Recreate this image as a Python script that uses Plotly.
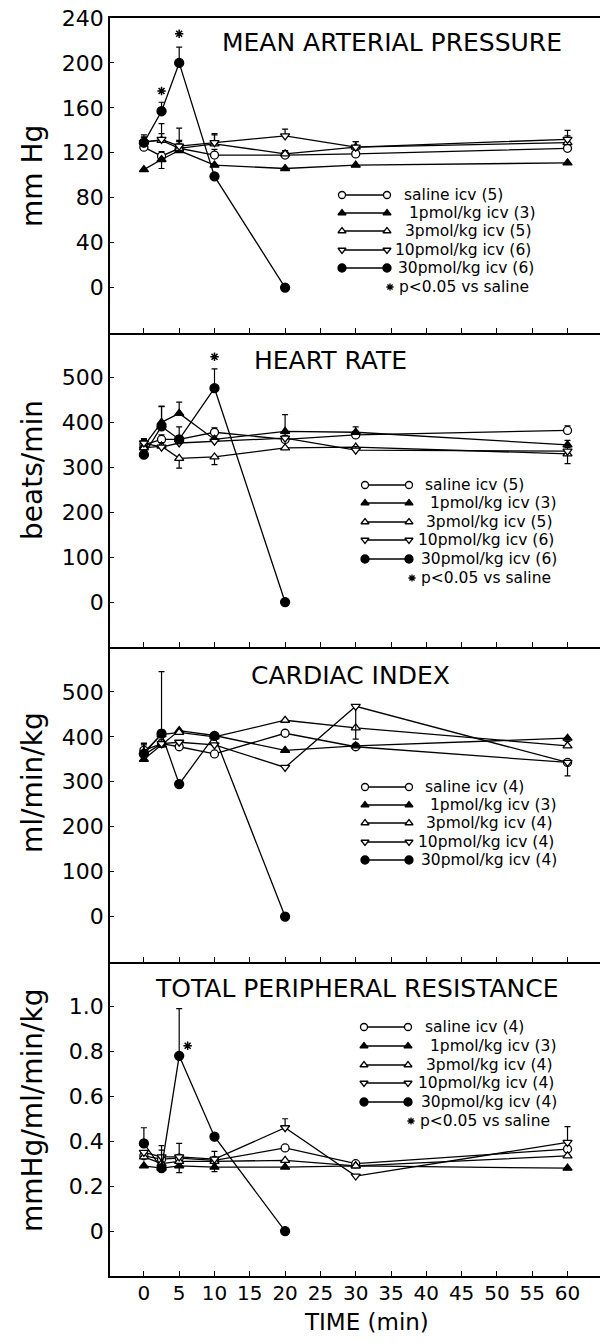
import plotly.graph_objects as go
from plotly.subplots import make_subplots

# ---------------- data ----------------
TIMES = [0, 2.5, 5, 10, 20, 30, 60]
SERIES = ["saline", "1pmol", "3pmol", "10pmol", "30pmol"]

# Mean arterial pressure (mm Hg)
MAP_MEAN = {
    "saline": [125, 117, 124, 118, 118, 119, 124],
    "1pmol": [105, 114, 122, 109, 106, 109, 111],
    "3pmol": [130, 131, 124, 128, 119, 125, 129],
    "10pmol": [129, 132, 126, 129, 135, 125, 132],
    "30pmol": [129, 157, 200, 99, 0, None, None],
}
MAP_UP = {
    "saline": [4, 4, 4, 5, 4, 4, 4],
    "1pmol": [0, 0, 20, 0, 0, 0, 0],
    "3pmol": [4, 15, 6, 8, 3, 5, 6],
    "10pmol": [5, 5, 5, 8, 6, 5, 8],
    "30pmol": [7, 8, 14, 0, 0, 0, 0],
}
MAP_DOWN = {"1pmol": [0, 8, 0, 0, 0, 0, 0]}
MAP_STARS_X = [2.5, 5]
MAP_STARS_Y = [175, 226]

# Heart rate (beats/min)
HR_MEAN = {
    "saline": [350, 362, 362, 378, 362, 372, 382],
    "1pmol": [347, 400, 420, 362, 380, 378, 350],
    "3pmol": [343, 347, 320, 323, 343, 345, 330],
    "10pmol": [354, 345, 354, 358, 365, 338, 336],
    "30pmol": [328, 391, 362, 476, 0, None, None],
}
HR_UP = {
    "saline": [10, 10, 8, 10, 8, 8, 10],
    "1pmol": [15, 35, 25, 0, 37, 12, 10],
    "3pmol": [0, 0, 0, 0, 0, 0, 0],
    "10pmol": [10, 10, 10, 10, 10, 8, 8],
    "30pmol": [10, 45, 28, 43, 0, 0, 0],
}
HR_DOWN = {"3pmol": [0, 0, 22, 17, 0, 0, 22]}
HR_STARS_X = [10]
HR_STARS_Y = [546]

# Cardiac index (ml/min/kg)
CI_MEAN = {
    "saline": [370, 385, 378, 362, 408, 378, 343],
    "1pmol": [350, 382, 414, 403, 370, 380, 397],
    "3pmol": [366, 405, 410, 400, 437, 420, 380],
    "10pmol": [360, 385, 388, 382, 332, 468, 343],
    "30pmol": [362, 407, 295, 402, 0, None, None],
}
CI_UP = {
    "saline": [15, 8, 8, 0, 0, 0, 0],
    "1pmol": [0, 0, 0, 0, 0, 0, 0],
    "3pmol": [20, 10, 0, 0, 0, 0, 10],
    "10pmol": [0, 0, 0, 0, 0, 0, 0],
    "30pmol": [20, 138, 0, 0, 0, 0, 0],
}
CI_DOWN = {"saline": [0, 0, 0, 0, 0, 0, 30], "10pmol": [0, 0, 0, 0, 0, 73, 0]}

# Total peripheral resistance (mmHg/ml/min/kg)
TPR_MEAN = {
    "saline": [0.335, 0.32, 0.325, 0.315, 0.37, 0.30, 0.365],
    "1pmol": [0.29, 0.28, 0.29, 0.285, 0.285, 0.29, 0.28],
    "3pmol": [0.33, 0.30, 0.31, 0.31, 0.315, 0.29, 0.335],
    "10pmol": [0.35, 0.33, 0.33, 0.32, 0.46, 0.245, 0.395],
    "30pmol": [0.39, 0.28, 0.78, 0.42, 0.0, None, None],
}
TPR_UP = {
    "saline": [0, 0, 0, 0.04, 0, 0, 0],
    "1pmol": [0, 0, 0, 0, 0, 0, 0],
    "3pmol": [0, 0.06, 0.08, 0, 0, 0, 0],
    "10pmol": [0, 0, 0, 0, 0.04, 0, 0.07],
    "30pmol": [0.07, 0.1, 0.21, 0, 0, 0, 0],
}
TPR_DOWN = {"3pmol": [0, 0, 0.05, 0, 0, 0, 0], "saline": [0, 0, 0, 0.05, 0, 0, 0]}
TPR_STARS_X = [6.2]
TPR_STARS_Y = [0.825]

PANEL_TITLES = ["MEAN ARTERIAL PRESSURE", "HEART RATE", "CARDIAC INDEX",
                "TOTAL PERIPHERAL RESISTANCE"]
Y_TITLES = ["mm Hg", "beats/min", "ml/min/kg", "mmHg/ml/min/kg"]
N_MAP = [5, 3, 5, 6, 6]
N_HR = [5, 3, 5, 6, 6]
N_CI = [4, 3, 4, 4, 4]
N_TPR = [4, 3, 4, 4, 4]
DOSE_LABELS = ["saline icv", "1pmol/kg icv", "3pmol/kg icv", "10pmol/kg icv", "30pmol/kg icv"]
X_TICKS = list(range(0, 61, 5))

# ---------------- layout constants ----------------
W_FIG, H_FIG = 600, 1343
L, R, T, B = 110, 0, 18, 67
PW = W_FIG - L - R
PH = H_FIG - T - B
BOTTOM = H_FIG - B
XR = [-4.8, 64.6]
DOMAINS = [[0.75, 1.0], [0.5, 0.75], [0.25, 0.5], [0.0, 0.25]]
YRANGES = [[-40, 240], [-100, 600], [-100, 600], [-0.2, 1.2]]
YTICKS = [list(range(0, 241, 40)), list(range(0, 501, 100)), list(range(0, 501, 100)),
          [0, 0.2, 0.4, 0.6, 0.8, 1.0]]
YTICKTEXT = [None, None, None, ["0", "0.2", "0.4", "0.6", "0.8", "1.0"]]

FONT = "DejaVu Sans"
LEG_FONT = 15.5
STYLE = {
    "saline": ("circle", "white", 8),
    "1pmol": ("triangle-up", "black", 8),
    "3pmol": ("triangle-up", "white", 8),
    "10pmol": ("triangle-down", "white", 8),
    "30pmol": ("circle", "black", 9),
}


def px_x(px):
    return XR[0] + (px - L) / PW * (XR[1] - XR[0])


def px_y(py, row):
    frac = (BOTTOM - py) / PH
    d0, d1 = DOMAINS[row]
    r0, r1 = YRANGES[row]
    return r0 + (frac - d0) / (d1 - d0) * (r1 - r0)


def paper_x(px):
    return (px - L) / PW


def paper_y(py):
    return (BOTTOM - py) / PH


fig = make_subplots(rows=4, cols=1, shared_xaxes=True, vertical_spacing=0)

panels = [
    (MAP_MEAN, MAP_UP, MAP_DOWN, MAP_STARS_X, MAP_STARS_Y),
    (HR_MEAN, HR_UP, HR_DOWN, HR_STARS_X, HR_STARS_Y),
    (CI_MEAN, CI_UP, CI_DOWN, [], []),
    (TPR_MEAN, TPR_UP, TPR_DOWN, TPR_STARS_X, TPR_STARS_Y),
]

for i, (mean, up, down, sx, sy) in enumerate(panels):
    row = i + 1
    for s in SERIES:
        sym, fill, size = STYLE[s]
        plus = up.get(s, [0] * len(TIMES))
        minus = down.get(s, [0] * len(TIMES))
        fig.add_trace(go.Scatter(
            x=TIMES, y=mean[s], mode="lines+markers",
            line=dict(color="black", width=1.3),
            marker=dict(symbol=sym, color=fill, size=size,
                        line=dict(color="black", width=1.3)),
            error_y=dict(type="data", symmetric=False, array=plus, arrayminus=minus,
                         color="black", thickness=1.2, width=3),
            showlegend=False, hoverinfo="skip"), row=row, col=1)
    if sx:
        fig.add_trace(go.Scatter(
            x=sx, y=sy, mode="markers",
            marker=dict(symbol="asterisk-open", size=7, color="black",
                        line=dict(color="black", width=1.5)),
            showlegend=False, hoverinfo="skip"), row=row, col=1)

# ---------------- legends (drawn inside each panel) ----------------
LEG_ROWS = [
    [195, 213, 231, 250, 268, 287],
    [485, 503, 522, 540, 559, 578],
    [787, 805, 823, 842, 860],
    [1027, 1046, 1065, 1083, 1102, 1121],
]
LEG_SYM = [(342, 387), (365, 409), (365, 409), (364, 408)]
LEG_TEXT_X = [
    [403, 408, 404, 394, 397],
    [424, 429, 425, 417, 420],
    [424, 429, 425, 417, 420],
    [424, 429, 425, 417, 420],
]
LEG_N = [N_MAP, N_HR, N_CI, N_TPR]
HAS_STAR = [True, True, False, True]

annotations = []
for i in range(4):
    row = i + 1
    x0, x1 = LEG_SYM[i]
    for k, s in enumerate(SERIES):
        sym, fill, size = STYLE[s]
        yy = px_y(LEG_ROWS[i][k], i)
        fig.add_trace(go.Scatter(
            x=[px_x(x0), px_x(x1)], y=[yy, yy], mode="lines+markers",
            line=dict(color="black", width=1.3),
            marker=dict(symbol=sym, color=fill, size=size - 1,
                        line=dict(color="black", width=1.3)),
            showlegend=False, hoverinfo="skip"), row=row, col=1)
        annotations.append(dict(
            x=paper_x(LEG_TEXT_X[i][k]), y=paper_y(LEG_ROWS[i][k]), xref="paper", yref="paper",
            xanchor="left", yanchor="middle", showarrow=False, borderpad=0,
            text=f"{DOSE_LABELS[k]} ({LEG_N[i][k]})",
            font=dict(family=FONT, size=LEG_FONT, color="black")))
    if HAS_STAR[i]:
        ys = LEG_ROWS[i][5]
        fig.add_trace(go.Scatter(
            x=[px_x(x1 + 3)], y=[px_y(ys, i)], mode="markers",
            marker=dict(symbol="asterisk-open", size=6, color="black",
                        line=dict(color="black", width=1.3)),
            showlegend=False, hoverinfo="skip"), row=row, col=1)
        annotations.append(dict(
            x=paper_x(x1 + 11), y=paper_y(ys), xref="paper", yref="paper",
            xanchor="left", yanchor="middle", showarrow=False, borderpad=0,
            text="p<0.05 vs saline",
            font=dict(family=FONT, size=LEG_FONT, color="black")))

# panel titles
TITLE_POS = [(392, 43), (330, 360), (350, 675), (357, 988)]
for t, (cx, cy) in zip(PANEL_TITLES, TITLE_POS):
    annotations.append(dict(x=paper_x(cx), y=paper_y(cy), xref="paper", yref="paper",
                            xanchor="center", yanchor="middle", showarrow=False, text=t,
                            font=dict(family=FONT, size=25, color="black")))

# y-axis titles
YT_POS = [176, 470, 783, 1110]
for t, cy in zip(Y_TITLES, YT_POS):
    annotations.append(dict(x=paper_x(32), y=paper_y(cy), xref="paper", yref="paper",
                            xanchor="center", yanchor="middle", showarrow=False, text=t,
                            textangle=-90, font=dict(family=FONT, size=28, color="black")))

# x-axis title
annotations.append(dict(x=paper_x(366), y=paper_y(1322), xref="paper", yref="paper",
                        xanchor="center", yanchor="middle", showarrow=False, text="TIME (min)",
                        borderpad=0, font=dict(family=FONT, size=23, color="black")))

for i in range(4):
    row = i + 1
    fig.update_xaxes(
        range=XR, tickvals=X_TICKS, ticks="inside", ticklen=5, tickwidth=1.3,
        tickcolor="black", showline=True, linecolor="black", linewidth=1.6,
        mirror=(i == 0), showgrid=False, zeroline=False,
        showticklabels=(i == 3),
        tickfont=dict(family=FONT, size=20, color="black"),
        row=row, col=1)
    fig.update_yaxes(
        range=YRANGES[i], domain=DOMAINS[i], tickvals=YTICKS[i], ticktext=YTICKTEXT[i],
        ticks="inside", ticklen=4, tickwidth=1.2, tickcolor="black",
        showline=True, linecolor="black", linewidth=1.6, showgrid=False, zeroline=False,
        tickfont=dict(family=FONT, size=22, color="black"),
        row=row, col=1)

fig.update_xaxes(ticklabelstandoff=-2, row=4, col=1)

fig.update_layout(
    width=W_FIG, height=H_FIG,
    margin=dict(l=L, r=R, t=T, b=B),
    paper_bgcolor="white", plot_bgcolor="white",
    annotations=annotations, showlegend=False,
)

fig.write_html("out.html", config={"displayModeBar": False},
               post_script="document.body.style.margin='0';document.body.style.overflow='hidden';")
